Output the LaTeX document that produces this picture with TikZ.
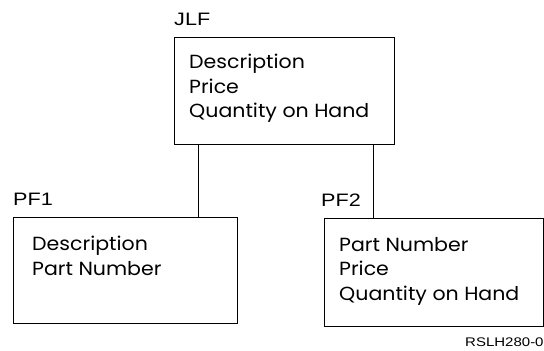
\documentclass[tikz,border=0pt]{standalone}
\usepackage{fontspec}
\usepackage{tikz}
\usetikzlibrary{positioning,calc}
\newfontfamily\fieldfont[FakeStretch=1.08]{Poppins}
\newfontfamily\labfont[FakeStretch=1.2]{Liberation Sans}
\tikzset{
  recbox/.style={draw,line width=0.8pt,anchor=north west,inner sep=0pt},
  fields/.style={anchor=north west,align=left,inner sep=0pt,
    font=\fieldfont\fontsize{19}{24.5}\selectfont},
  flabel/.style={anchor=base west,inner sep=0pt,font=\labfont\fontsize{18}{20}\selectfont},
  link/.style={line width=0.6pt},
  figid/.style={anchor=base east,inner sep=0pt,font=\labfont\fontsize{12.5}{14}\selectfont},
}
\begin{document}
\begin{tikzpicture}[x=1pt,y=1pt]
  \useasboundingbox (0,0) rectangle (544,-351);
  % the joined file and its two physical files
  \node[recbox,minimum width=220pt,minimum height=107pt] (jlf) at (174,-37) {};
  \node[recbox,minimum width=224pt,minimum height=106pt] (pf1) at (13,-217) {};
  \node[recbox,minimum width=219pt,minimum height=108pt] (pf2) at (324,-218) {};
  \node[flabel] (jlfname) at ([yshift=12pt]jlf.north west) {JLF};
  \node[flabel] (pf1name) at ([yshift=12pt]pf1.north west) {PF1};
  \node[flabel,xshift=-3pt] (pf2name) at ([yshift=12pt]pf2.north west) {PF2};
  \node[fields] (jlftxt) at ([shift={(15pt,-17pt)}]jlf.north west)
    {Description\\Price\\Quantity on Hand};
  \node[fields] (pf1txt) at ([shift={(19pt,-19pt)}]pf1.north west)
    {Description\\Part Number};
  \node[fields] (pf2txt) at ([shift={(15pt,-19pt)}]pf2.north west)
    {Part Number\\Price\\Quantity on Hand};
  \draw[link] ([xshift=24pt]jlf.south west) -- ([xshift=24pt]jlf.south west |- pf1.north);
  \draw[link] ([xshift=-22pt]jlf.south east) -- ([xshift=-22pt]jlf.south east |- pf2.north);
  \node[figid] (figno) at ([yshift=-20pt]pf2.south east) {RSLH280-0};
\end{tikzpicture}
\end{document}
